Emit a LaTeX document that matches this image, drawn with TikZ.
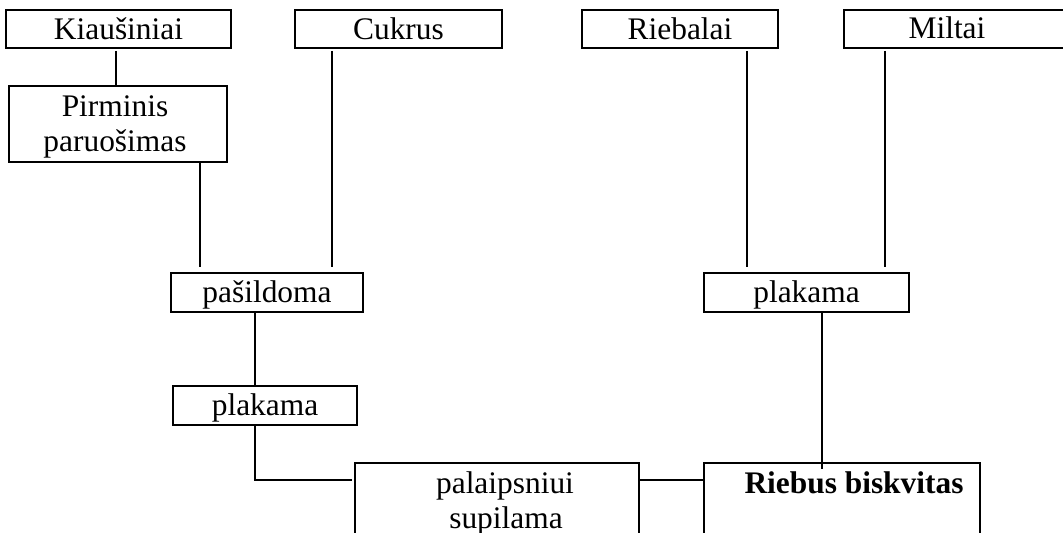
\documentclass[tikz,border=0pt]{standalone}
\usepackage{fontspec}
\setmainfont{Liberation Serif}
\begin{document}
\begin{tikzpicture}[x=0.5pt,y=-0.5pt,
  box/.style={draw,line width=1pt,rectangle,inner sep=0pt,
    text height=11.8pt,text depth=1.7pt},
  lbl/.style={inner sep=0pt,anchor=base},
  link/.style={line width=0.9pt},
  every node/.append style={font=\fontsize{15.7}{17.5}\selectfont}]
\path[use as bounding box,clip] (0,0) rectangle (1063,533);

% ingredients
\node[box,minimum width=112.5pt,minimum height=19pt] (kiau) at (118.5,29) {Kiaušiniai};
\node[box,minimum width=103.5pt,minimum height=19pt] (cuk)  at (398.5,29) {Cukrus};
\node[box,minimum width=98pt,minimum height=19pt]    (rieb) at (680,29)   {Riebalai};
\node[box,minimum width=118pt,minimum height=19pt]   (milt) at (962,29)   {};
\node[lbl] (miltt) at (947,39) {Miltai};

% preparation of the eggs
\node[box,minimum width=109pt,minimum height=38pt] (pirm) at (118,124) {};
\node[lbl] (pirm1) at (115,117) {Pirminis};
\node[lbl] (pirm2) at (115,152) {paruošimas};

% processing steps
\node[box,minimum width=96pt,minimum height=19.5pt]  (pasil) at (267,292.5) {pašildoma};
\node[box,minimum width=92pt,minimum height=19.5pt]  (plakA) at (265,405.5) {plakama};
\node[box,minimum width=102.5pt,minimum height=19.5pt] (plakB) at (806.5,292.5) {plakama};

% final mixing and product
\node[box,minimum width=142pt,minimum height=60pt] (supil) at (497,523) {};
\node[lbl] (supil1) at (505,493) {palaipsniui};
\node[lbl] (supil2) at (506,528) {supilama};
\node[box,minimum width=138pt,minimum height=60pt] (riebus) at (842,523) {};
\node[lbl] (riebust) at (854,493) {\textbf{Riebus biskvitas}};

% connector columns and rows
\coordinate (cA) at (116,0);
\coordinate (cB) at (200,0);
\coordinate (cC) at (332,0);
\coordinate (cD) at (255,0);
\coordinate (cE) at (747,0);
\coordinate (cF) at (885,0);
\coordinate (cG) at (822,0);
\coordinate (rA) at (0,480);
\coordinate (bend) at (255,480);

\draw[link,shorten <=1pt] (kiau.south -| cA) -- (pirm.north -| cA);
\draw[link,shorten >=2.5pt] (pirm.south -| cB) -- (pasil.north -| cB);
\draw[link,shorten <=1pt,shorten >=2.5pt] (cuk.south -| cC) -- (pasil.north -| cC);
\draw[link,shorten <=1pt,shorten >=2.5pt] (rieb.south -| cE) -- (plakB.north -| cE);
\draw[link,shorten <=1pt,shorten >=2.5pt] (milt.south -| cF) -- (plakB.north -| cF);
\draw[link] (pasil.south -| cD) -- (plakA.north -| cD);
\draw[link,shorten >=1pt] (plakA.south -| cD) -- (bend) -- (supil.west |- rA);
\draw[link] (supil.east |- rA) -- (riebus.west |- rA);
\draw[link,shorten >=-3.5pt] (plakB.south -| cG) -- (riebus.north -| cG);
\end{tikzpicture}
\end{document}
